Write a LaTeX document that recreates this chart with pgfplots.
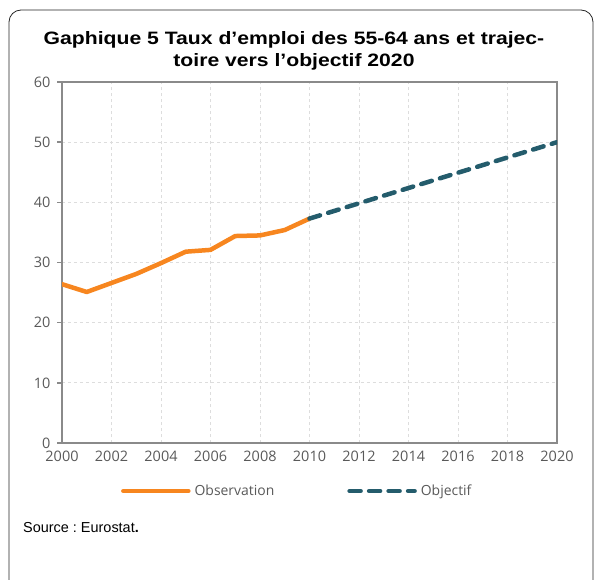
\documentclass[border=0pt]{standalone}
\usepackage{fontspec}
\setmainfont{Liberation Sans}
\newfontfamily\tickfont{Open Sans}
\newfontfamily\titlefont[FakeStretch=1.18]{Liberation Sans}
\usepackage{pgfplots}
\pgfplotsset{compat=1.18}
\definecolor{cObs}{HTML}{F7861F}
\definecolor{cObj}{HTML}{245C6C}
\definecolor{cAxis}{HTML}{8A8A8A}
\definecolor{cGrid}{HTML}{DDDDDD}
\definecolor{cTick}{HTML}{595959}
\begin{document}
\begin{tikzpicture}
\useasboundingbox (0,0) rectangle (596bp,-580bp);
% frame
\draw[black!85, line width=0.8bp, rounded corners=12bp]
  (9bp,-584bp) -- (9bp,-10bp) -- (593bp,-10bp) -- (593bp,-584bp);
% title
\node[font=\titlefont\bfseries\fontsize{18}{21.5}\selectfont, align=center, anchor=base, inner sep=0pt]
  at (294bp,-66bp) {Gaphique 5 Taux d’emploi des 55-64 ans et trajec-\\toire vers l’objectif 2020};
\begin{axis}[
  at={(62bp,-443bp)}, anchor=south west,
  scale only axis, width=495bp, height=361bp,
  xmin=2000, xmax=2020, ymin=0, ymax=60,
  xtick={2000,2002,...,2020}, ytick={0,10,...,60},
  ytick pos=left,
  /pgf/number format/1000 sep={},
  /pgf/number format/assume math mode=true,
  tick label style={font=\tickfont\fontsize{14.5}{14.5}\selectfont, color=cTick},
  xticklabel style={yshift=1bp},
  yticklabel style={xshift=-3bp},
  axis line style={cAxis, line width=2.5bp},
  major tick length=5bp,
  tick style={cAxis, line width=1.5bp},
  xtick style={draw=none},
  tick align=outside,
  grid=major, grid style={cGrid, dashed, line width=0.8bp},
  legend columns=2,
  legend style={draw=none, fill=none, inner sep=0pt,
    font=\tickfont\fontsize{14}{14}\selectfont, text=cTick,
    at={(0.119,-0.133)}, anchor=west,
    /tikz/every odd column/.append style={column sep=2bp},
    /tikz/every even column/.append style={column sep=71bp}},
  legend image code/.code={\draw[#1] (0bp,0bp) -- (65bp,0bp);},
]
\addplot[cObs, line width=4.5bp, line cap=round, line join=round] coordinates {
  (2000,26.4) (2001,25.1) (2002,26.6) (2003,28.1) (2004,29.9) (2005,31.8)
  (2006,32.1) (2007,34.4) (2008,34.5) (2009,35.4) (2010,37.3)};
\addlegendentry{Observation}
\addplot[cObj, line width=4.5bp, line cap=round, dash pattern=on 11bp off 8.5bp] coordinates {
  (2010,37.3) (2020,50)};
\addlegendentry{Objectif}
\end{axis}
\node[anchor=base west, inner sep=0pt, font=\fontsize{14.5}{16}\selectfont] at (23bp,-532bp) {Source :\ Eurostat\textbf{.}};
\end{tikzpicture}
\end{document}
